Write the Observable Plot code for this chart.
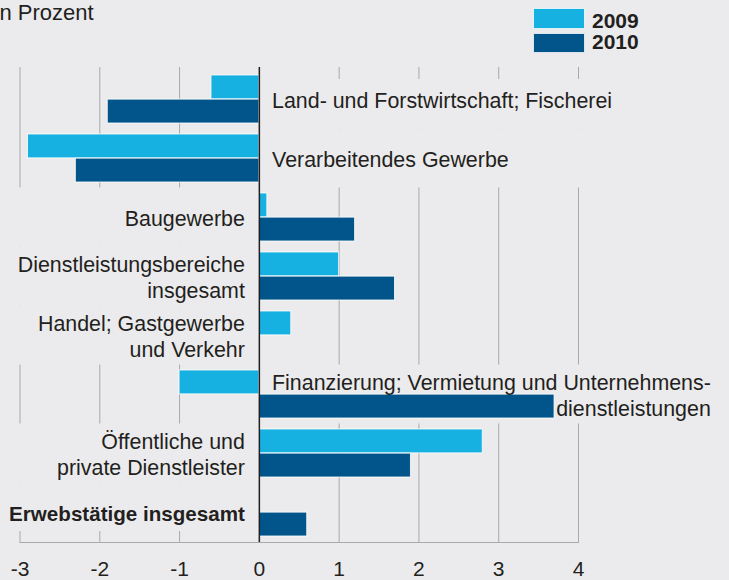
<!DOCTYPE html>
<html>
<head>
<meta charset="utf-8">
<script src="https://cdn.jsdelivr.net/npm/d3@7"></script>
<script src="https://cdn.jsdelivr.net/npm/@observablehq/plot@0.6"></script>
<style>
  html, body { margin: 0; padding: 0; background: #ebebed; }
  body { width: 729px; height: 580px; overflow: hidden; font-family: 'Liberation Sans', Arial, sans-serif; color: #231f20; }
  #header { position: relative; width: 729px; height: 60px; }
  .sub { position: absolute; left: -5.5px; top: 2.4px; font-size: 22px; line-height: 22px; white-space: nowrap; }
  .sw { position: absolute; left: 533px; width: 52px; box-sizing: border-box; border: 1px solid rgba(255,255,255,0.85); }
  .lg { position: absolute; left: 592px; font-size: 21px; line-height: 21px; font-weight: bold; }
  #chart svg { display: block; }
</style>
</head>
<body>
<div id="header"></div>
<div id="chart"></div>
<script>
// ---- data ----
const categories = [
  "Land- und Forstwirtschaft; Fischerei",
  "Verarbeitendes Gewerbe",
  "Baugewerbe",
  "Dienstleistungsbereiche\ninsgesamt",
  "Handel; Gastgewerbe\nund Verkehr",
  "Finanzierung; Vermietung und Unternehmens-\ndienstleistungen",
  "Öffentliche und\nprivate Dienstleister",
  "Erwebstätige insgesamt"
];
const totalCategory = "Erwebstätige insgesamt";
const years = ["2009", "2010"];
const values2009 = [-0.6, -2.9, 0.1, 1.0, 0.4, -1.0, 2.8, 0.0];
const values2010 = [-1.9, -2.3, 1.2, 1.7, 0.0, 3.7, 1.9, 0.6];
const xTicks = [-3, -2, -1, 0, 1, 2, 3, 4];
const subtitle = "in Prozent";

// ---- styles ----
const colors = {"2009": "#17b1e1", "2010": "#02558a"};
const bg = "#ebebed";
const ink = "#231f20";
const gridColor = "#a9a9a9";
const FONT = "'Liberation Sans', Arial, sans-serif";
const LABEL_SIZE = 21.4, BOLD_SIZE = 20.6;

// ---- header (subtitle + legend) ----
const header = document.getElementById("header");
const sub = document.createElement("div");
sub.className = "sub"; sub.textContent = subtitle; header.appendChild(sub);
const swTop = [7.5, 32.7], swH = [21, 20.6], lgTop = [9.5, 30.5];
years.forEach((y, i) => {
  const s = document.createElement("div");
  s.className = "sw"; s.style.top = swTop[i] + "px"; s.style.height = swH[i] + "px"; s.style.background = colors[y];
  header.appendChild(s);
  const t = document.createElement("div");
  t.className = "lg"; t.style.top = lgTop[i] + "px"; t.textContent = y;
  header.appendChild(t);
});

// ---- layout ----
const W = 729, H = 520, mL = 19.5, mR = 151, mT = 7, mB = 38;
const Y0 = 13.5, Y1 = 476.7, PAD = 0.186;
const n = categories.length;
const step = (Y1 - Y0) / (n - PAD);
const bw = step * (1 - PAD);
const gapHalf = (step - bw) / 2;

const rows = categories.map((c, i) => ({
  category: c, index: i,
  v2009: values2009[i], v2010: values2010[i],
  side: values2009[i] < 0 ? "right" : "left"
}));

const ctx = document.createElement("canvas").getContext("2d");
ctx.font = LABEL_SIZE + "px 'Liberation Sans'";
const blockWidth = s => Math.max(...s.split("\n").map(l => ctx.measureText(l).width));

const coverExtent = d => d.side === "right" ? 4.4 : -3.4;
const coverOpts = {x1: () => 0, x2: coverExtent, y: "category", fill: bg};
const first = rows.filter(d => d.index === 0);
const last = rows.filter(d => d.index === n - 1);
const middle = rows.filter(d => d.index > 0 && d.index < n - 1);

const textOpts = {x: () => 0, y: "category", text: "category", fontSize: LABEL_SIZE, lineHeight: 1.23, fill: ink, lineAnchor: "middle"};

const chart = Plot.plot({
  width: W, height: H,
  marginLeft: mL, marginRight: mR, marginTop: mT, marginBottom: mB,
  style: {background: "transparent", fontFamily: FONT, fontSize: "21px", color: ink, overflow: "visible"},
  x: {domain: [-3, 4], axis: null},
  y: {type: "band", domain: categories, range: [Y0, Y1], paddingInner: PAD, paddingOuter: 0, axis: null},
  marks: [
    Plot.gridX(xTicks, {stroke: gridColor, strokeOpacity: 1, strokeWidth: 1}),
    Plot.frame({anchor: "bottom", stroke: gridColor, strokeWidth: 1}),
    Plot.barX(first, {...coverOpts, insetTop: 4, insetBottom: -gapHalf}),
    Plot.barX(middle, {...coverOpts, insetTop: -gapHalf, insetBottom: -gapHalf}),
    Plot.barX(last, {...coverOpts, insetTop: -gapHalf, insetBottom: 5}),
    Plot.barX(rows.filter(d => d.v2009 !== 0), {x: "v2009", y: "category", fill: colors["2009"], insetBottom: bw / 2, stroke: "#ffffff", strokeOpacity: 0.8, strokeWidth: 1}),
    Plot.barX(rows.filter(d => d.v2010 !== 0), {x: "v2010", y: "category", fill: colors["2010"], insetTop: bw / 2, stroke: "#ffffff", strokeOpacity: 0.8, strokeWidth: 1}),
    Plot.ruleX([0], {stroke: ink, strokeWidth: 1.5}),
    Plot.text(rows.filter(d => d.side === "left" && d.category !== totalCategory), {...textOpts, textAnchor: "end", dx: -14.5}),
    Plot.text(rows.filter(d => d.category === totalCategory), {...textOpts, fontSize: BOLD_SIZE, textAnchor: "end", dx: -14.5, fontWeight: "bold"}),
    ...rows.filter(d => d.side === "right").map(d =>
      Plot.text([d], {...textOpts, textAnchor: "end", dx: 12.7 + blockWidth(d.category)})),
    Plot.axisX(xTicks, {tickSize: 0, tickPadding: 19, tickFormat: d => String(d), fontSize: 21, label: null})
  ]
});
document.getElementById("chart").appendChild(chart);
</script>
</body>
</html>
